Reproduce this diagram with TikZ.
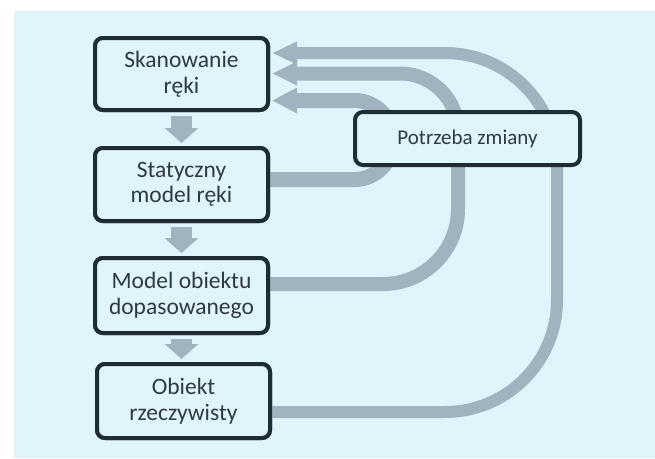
\documentclass[tikz,border=0pt]{standalone}
\usepackage{fontspec}
\setmainfont{Carlito}
\usetikzlibrary{arrows.meta}
\definecolor{bgblue}{HTML}{DFF4FB}
\definecolor{boxline}{HTML}{1E2C35}
\definecolor{txt}{HTML}{2F3A40}
\definecolor{fbgray}{HTML}{A0B3BE}
\tikzset{
  stepbox/.style={draw=boxline, line width=4pt, rounded corners=8pt, fill=bgblue,
    outer sep=0pt, inner sep=0pt, align=center, text=txt,
    font=\fontsize{23.5}{25.5}\selectfont},
  downarrow/.style={draw=fbgray, line width=21pt,
    -{Triangle[width=33pt,length=15pt]}, shorten <=6pt, shorten >=5pt},
  fb/.style={draw=fbgray},
}
\begin{document}
\begin{tikzpicture}[x=1pt,y=-1pt]
\useasboundingbox (0,0) rectangle (655,458);
\fill[white] (0,0) rectangle (655,458);
\fill[bgblue] (14,11) rectangle (655,458);

% nodes
\node[stepbox, minimum width=173pt, minimum height=72pt] (skan) at (181.5,74) {Skanowanie\\ręki};
\node[stepbox, minimum width=173pt, minimum height=73pt] (stat) at (181.5,184.5) {Statyczny\\model ręki};
\node[stepbox, minimum width=173pt, minimum height=75pt] (model) at (181.5,295.5) {Model obiektu\\dopasowanego};
\node[stepbox, minimum width=173pt, minimum height=74pt] (obj) at (183.5,401) {Obiekt\\rzeczywisty};

% feedback arcs
\draw[fb, line width=12pt, -{Triangle[width=21pt,length=25pt]}, rounded corners=112pt]
  (obj.east |- 0,412) -- (557,412) -- (557,53) -- ([xshift=4pt]skan.east |- 0,53);
\draw[fb, line width=14pt, -{Triangle[width=22pt,length=25pt]}, rounded corners=75pt]
  (model.east |- 0,284) -- (458,284) [rounded corners=58pt] -- (458,73.5) -- ([xshift=4pt]skan.east |- 0,73.5);
\draw[fb, line width=15pt, -{Triangle[width=24pt,length=25pt]}, rounded corners=38pt]
  (stat.east |- 0,179.5) -- (392.5,179.5) -- (392.5,100.5) -- ([xshift=4pt]skan.east |- 0,100.5);

\node[stepbox, minimum width=225pt, minimum height=53pt,
  font=\fontsize{21}{24}\selectfont] (need) at (467.5,138.5) {Potrzeba zmiany};

% down arrows
\draw[downarrow] (skan.south) -- (stat.north);
\draw[downarrow] (stat.south) -- (model.north);
\draw[downarrow] (model.south) -- (model.south |- obj.north);

% redraw boxes on top of arrow ends
\node[stepbox, minimum width=173pt, minimum height=72pt] at (skan) {Skanowanie\\ręki};
\node[stepbox, minimum width=173pt, minimum height=73pt] at (stat) {Statyczny\\model ręki};
\node[stepbox, minimum width=173pt, minimum height=75pt] at (model) {Model obiektu\\dopasowanego};
\node[stepbox, minimum width=173pt, minimum height=74pt] at (obj) {Obiekt\\rzeczywisty};
\end{tikzpicture}
\end{document}
